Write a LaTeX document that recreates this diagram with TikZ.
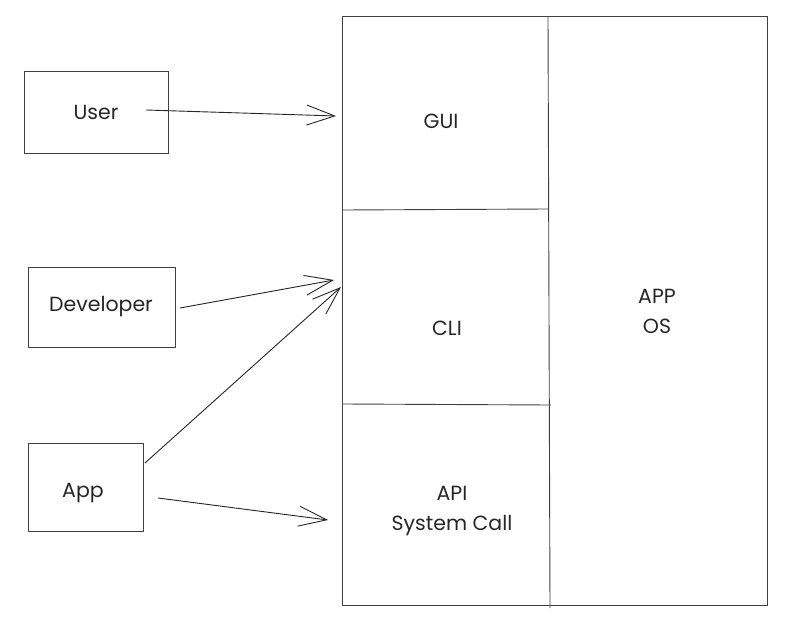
\documentclass[tikz,border=0pt]{standalone}
\usepackage{fontspec}
\setmainfont{Poppins}
\usetikzlibrary{arrows.meta}
\begin{document}
\begin{tikzpicture}[x=1pt,y=-1pt,
  line width=0.9pt, draw=black!80,
  box/.style={draw=black!75, line width=0.9pt},
  lbl/.style={font=\fontsize{20.5}{30}\selectfont, text=black!85, align=center, inner sep=0pt},
  conn/.style={draw=black!85, line width=0.9pt, -{Straight Barb[length=28pt,width=20pt,line width=0.9pt]}}]
\useasboundingbox (0,0) rectangle (801,634);
% left boxes
\draw[box] (24,71) rectangle (168,153);
\node[lbl] (user) at (96,112) {User};
\draw[box] (28,267) rectangle (175,347);
\node[lbl] (dev) at (101,307) {Developer};
\draw[box] (28,443) rectangle (143,531);
\node[lbl] (app) at (83,493) {App};
% big rect
\draw[box] (342,16) rectangle (767,605);
\draw[box] (548,16) -- (550,608);
\draw[box] (343,210) -- (548,209);
\draw[box] (343,404) -- (551,405);
\node[lbl] (gui) at (441,121) {GUI};
\node[lbl] (cli) at (447,328) {CLI};
\node[lbl] (api) at (452,511) {API\\System Call};
\node[lbl] (os) at (657,311) {APP\\OS};
% arrow end coordinates
\coordinate (uS) at (146,110);
\coordinate (uE) at (336,116);
\coordinate (dS) at (180,308);
\coordinate (dE) at (334,280);
\coordinate (a1S) at (145,463);
\coordinate (a1E) at (341,287);
\coordinate (a2S) at (158,498);
\coordinate (a2E) at (328,520);
\draw[conn] (uS) -- (uE);
\draw[conn] (dS) -- (dE);
\draw[conn] (a1S) -- (a1E);
\draw[conn] (a2S) -- (a2E);
\end{tikzpicture}
\end{document}
